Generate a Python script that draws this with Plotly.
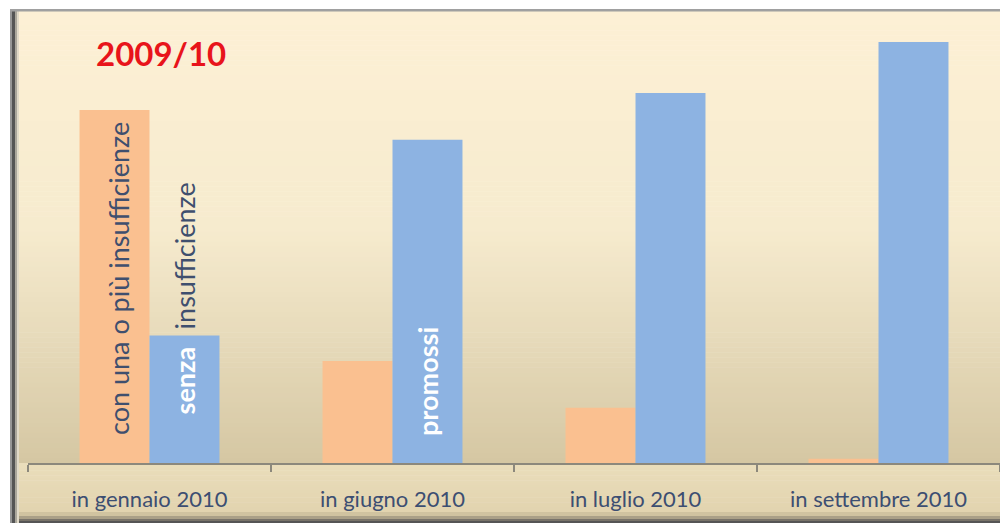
import plotly.graph_objects as go

categories = ["in gennaio 2010", "in giugno 2010", "in luglio 2010", "in settembre 2010"]
con_insufficienze = [83, 24, 13, 1]
senza_insufficienze = [30, 76, 87, 99]
orange_text = ["con una o più insufficienze", "", "", ""]
blue_text = ["senza", "promossi", "", ""]
title_text = "2009/10"
outside_label = "insufficienze"

W, H = 1000, 526
ML, MR, MT, MB = 28, 0, 10, 63
PW, PH = W - ML - MR, H - MT - MB
BARGAP = 0.424


def px(x):
    return (x - ML) / PW


def py(y):
    return (H - MB - y) / PH


def lerp(c1, c2, t):
    return tuple(round(a + (b - a) * t) for a, b in zip(c1, c2))


def rgb(c):
    return "rgb(%d,%d,%d)" % c


shapes = []
# background gradient (plot area + left inner margin)
stops = [(10, (253, 240, 213)), (230, (246, 235, 206)), (463, (213, 199, 163))]
N = 90
y0p, y1p = 10, 463
for i in range(N):
    a = y0p + (y1p - y0p) * i / N
    b = y0p + (y1p - y0p) * (i + 1) / N
    m = (a + b) / 2
    for (sa, ca), (sb, cb) in zip(stops[:-1], stops[1:]):
        if sa <= m <= sb:
            col = lerp(ca, cb, (m - sa) / (sb - sa))
            break
    shapes.append(dict(type="rect", xref="paper", yref="paper", layer="below",
                       x0=px(13), x1=px(1001), y0=py(b + 0.5), y1=py(a),
                       fillcolor=rgb(col), line=dict(width=0)))
# label strip
M = 20
for i in range(M):
    a = 463 + (512 - 463) * i / M
    b = 463 + (512 - 463) * (i + 1) / M
    col = lerp((234, 221, 187), (226, 212, 175), i / (M - 1))
    shapes.append(dict(type="rect", xref="paper", yref="paper", layer="below",
                       x0=px(13), x1=px(1001), y0=py(b + 0.5), y1=py(a),
                       fillcolor=rgb(col), line=dict(width=0)))
# bottom bevel
bevel = [(512, 516, (208, 195, 160)), (516, 519, (170, 160, 135)), (519, 521, (120, 115, 105)), (521, 523, (85, 85, 85))]
for a, b, col in bevel:
    shapes.append(dict(type="rect", xref="paper", yref="paper", layer="below",
                       x0=px(13), x1=px(1001), y0=py(b), y1=py(a),
                       fillcolor=rgb(col), line=dict(width=0)))
# left border
for a, b, col in [(10, 12, (150, 150, 150)), (12, 15, (85, 85, 85)), (15, 17, (170, 166, 155)), (17, 19, (225, 218, 200))]:
    shapes.append(dict(type="rect", xref="paper", yref="paper", layer="below",
                       x0=px(a), x1=px(b), y0=py(523), y1=py(9),
                       fillcolor=rgb(col), line=dict(width=0)))
# top border
shapes.append(dict(type="rect", xref="paper", yref="paper", layer="below",
                   x0=px(10), x1=px(1001), y0=py(11.5), y1=py(9),
                   fillcolor="rgb(160,160,160)", line=dict(width=0)))

fig = go.Figure()
fig.add_trace(go.Bar(
    x=categories, y=con_insufficienze, name="con una o più insufficienze",
    marker=dict(color="#FAC090", line=dict(width=0)), hoverinfo="skip",
))
fig.add_trace(go.Bar(
    x=categories, y=senza_insufficienze, name="senza insufficienze",
    marker=dict(color="#8DB3E2", line=dict(width=0)), hoverinfo="skip",
))

bar_w = (1 - BARGAP) / 2
annotations = [
    dict(text="<b>" + title_text + "</b>", xref="paper", yref="paper",
         x=px(94), y=py(53), xanchor="left", yanchor="middle", showarrow=False,
         font=dict(family="Lato", size=33, color="#E8141B")),
    dict(text=outside_label, xref="x", yref="y",
         x=0 + bar_w / 2, y=senza_insufficienze[0], yshift=4,
         xanchor="center", yanchor="bottom", textangle=-90, showarrow=False,
         font=dict(family="Lato", size=27, color="#3F4F6E")),
]
orange_shift = [26, 0, 0, 0]
blue_shift = [47, 25, 0, 0]
for i, t in enumerate(orange_text):
    if t:
        annotations.append(dict(text=t, xref="x", yref="y", x=i - bar_w / 2, y=0,
                                yshift=orange_shift[i], xshift=4,
                                xanchor="center", yanchor="bottom", textangle=-90,
                                showarrow=False,
                                font=dict(family="Lato", size=27, color="#3F4F6E")))
for i, t in enumerate(blue_text):
    if t:
        annotations.append(dict(text="<b>" + t + "</b>", xref="x", yref="y",
                                x=i + bar_w / 2, y=0, yshift=blue_shift[i],
                                xanchor="center", yanchor="bottom", textangle=-90,
                                showarrow=False,
                                font=dict(family="Lato", size=27, color="white")))

fig.update_layout(
    width=W, height=H,
    margin=dict(l=ML, r=MR, t=MT, b=MB),
    paper_bgcolor="white", plot_bgcolor="rgba(0,0,0,0)",
    barmode="group", bargap=BARGAP, bargroupgap=0,
    showlegend=False, shapes=shapes, annotations=annotations,
    xaxis=dict(type="category", showline=True, linecolor="#8C887C", linewidth=1.5,
               ticks="outside", tickson="boundaries", ticklen=7, tickcolor="#8C887C",
               tickwidth=1.5, showgrid=False, ticklabelstandoff=16,
               tickfont=dict(family="Lato", size=22, color="#3C4E72")),
    yaxis=dict(range=[0, 106.5], visible=False, showgrid=False, zeroline=False),
)

fig.write_html("out.html", config={"displayModeBar": False},
               post_script="document.body.style.margin='0';")
